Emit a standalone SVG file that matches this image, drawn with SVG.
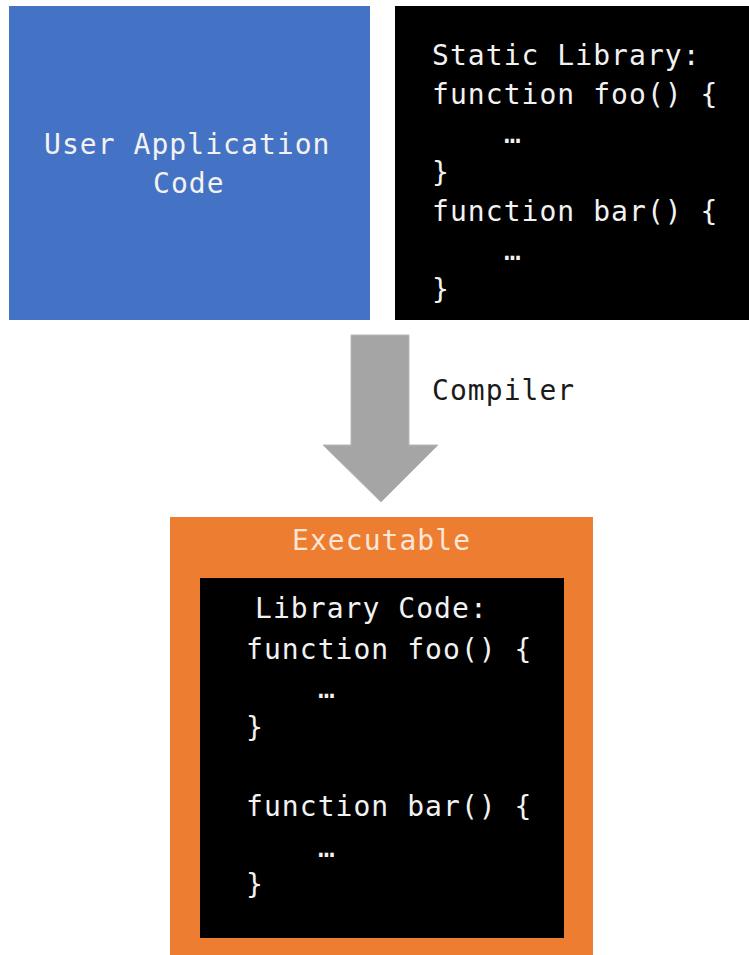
<svg xmlns="http://www.w3.org/2000/svg" width="749" height="955" viewBox="0 0 749 955">
<style>
.code{font-family:"DejaVu Sans Mono","Liberation Mono",monospace;font-size:28px;letter-spacing:1.05px;fill:#f2f2f2}
.dark{fill:#1a1a1a}
.lt{fill:#fbe5d6}
</style>
<rect width="749" height="955" fill="#ffffff"/>
<g id="user-app">
<rect x="9" y="6" width="361" height="314" fill="#4472C4"/>
<text class="code" x="44" y="154">User Application</text>
<text class="code" x="153" y="193">Code</text>
</g>
<g id="static-lib">
<rect x="395" y="6" width="354" height="314" fill="#000000"/>
<text class="code" x="432" y="65">Static Library:</text>
<text class="code" x="432" y="104">function foo() {</text>
<text class="code" x="504" y="143">…</text>
<text class="code" x="432" y="182">}</text>
<text class="code" x="432" y="221">function bar() {</text>
<text class="code" x="504" y="260">…</text>
<text class="code" x="432" y="299">}</text>
</g>
<g id="connectors">
<path d="M351,335 L409,335 L409,445 L438,445 L381,502 L323,445 L351,445 Z" fill="#A5A5A5" stroke="#b8b8b8" stroke-width="1"/>
<text class="code dark" x="432" y="400">Compiler</text>
</g>
<g id="executable">
<rect x="170" y="517" width="423" height="438" fill="#ED7D31"/>
<text class="code lt" x="292" y="550">Executable</text>
<g id="library-code">
<rect x="200" y="578" width="364" height="360" fill="#000000"/>
<text class="code" x="255" y="618">Library Code:</text>
<text class="code" x="246" y="659">function foo() {</text>
<text class="code" x="318" y="698">…</text>
<text class="code" x="246" y="737">}</text>
<text class="code" x="246" y="816">function bar() {</text>
<text class="code" x="318" y="857">…</text>
<text class="code" x="246" y="894">}</text>
</g>
</g>
</svg>
